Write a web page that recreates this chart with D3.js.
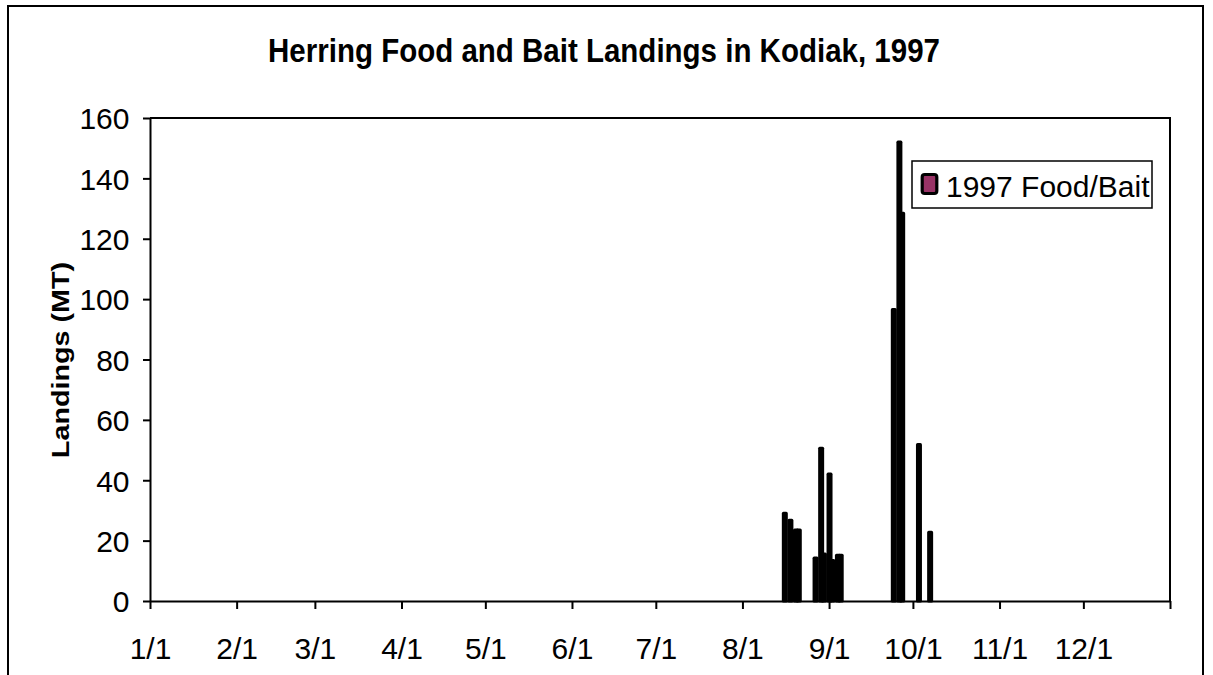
<!DOCTYPE html>
<html>
<head>
<meta charset="utf-8">
<script src="https://cdn.jsdelivr.net/npm/d3@7"></script>
<style>
  body { margin: 0; background: #fff; }
  text { font-family: "Liberation Sans", Arial, sans-serif; }
</style>
</head>
<body>
<div id="bar_chart"></div>
<script>
// landings by day, 1997
var dates = ["1997-08-16", "1997-08-18", "1997-08-20", "1997-08-21", "1997-08-27",
  "1997-08-29", "1997-08-30", "1997-09-01", "1997-09-02", "1997-09-04", "1997-09-05",
  "1997-09-24", "1997-09-26", "1997-09-27", "1997-10-03", "1997-10-07"];
var landings = [29, 26.7, 23.5, 23.5, 14.2, 50.6, 15.5, 42, 13.4, 15.1, 15.1,
  96.5, 152, 128.4, 51.8, 22.7];
var monthLabels = ["1/1", "2/1", "3/1", "4/1", "5/1", "6/1", "7/1", "8/1", "9/1", "10/1", "11/1", "12/1"];
var yTicks = [0, 20, 40, 60, 80, 100, 120, 140, 160];
var seriesName = "1997 Food/Bait";

var margin = { top: 118, right: 43, bottom: 74, left: 150 },
width = 1213 - margin.left - margin.right,
height = 675 - margin.top - margin.bottom;

var root = d3.select("#bar_chart")
.append("svg")
.attr("width", 1213)
.attr("height", 675);

// outer chart border
root.append("rect")
  .attr("x", 8).attr("y", 6)
  .attr("width", 1195).attr("height", 720)
  .attr("fill", "none")
  .attr("stroke", "#000")
  .attr("stroke-width", 2);

root.append("text")
  .attr("transform", "translate(604,62) scale(1,1.12)")
  .attr("text-anchor", "middle")
  .attr("font-size", 29.5)
  .attr("font-weight", "bold")
  .text("Herring Food and Bait Landings in Kodiak, 1997");

root.append("text")
  .attr("transform", "translate(69,360) rotate(-90) scale(1.25,1)")
  .attr("text-anchor", "middle")
  .attr("font-size", 23)
  .attr("font-weight", "bold")
  .text("Landings (MT)");

var svg = root.append("g")
.attr("transform", "translate(" + margin.left + "," + margin.top + ")");

var parseDate = d3.timeParse("%Y-%m-%d");
var data = dates.map(function (d, i) {
  return { date: parseDate(d), value: landings[i] };
});

var start = new Date(1997, 0, 1), end = new Date(1998, 0, 1);
var x = d3.scaleTime()
  .domain([start, end])
  .range([0, width]);

var y = d3.scaleLinear()
  .domain([0, 160])
  .range([height, 0]);

var dayW = x(new Date(1997, 0, 2)) - x(start);

// plot frame top and right
svg.append("path")
  .attr("d", "M0,0H" + width + "V" + height)
  .attr("fill", "none")
  .attr("stroke", "#000")
  .attr("stroke-width", 2);

svg.selectAll(".bar")
  .data(data)
  .enter().append("rect")
  .attr("class", "bar")
  .attr("x", d => x(d3.timeHour.offset(d.date, 4)) - dayW / 2)
  .attr("width", dayW)
  .attr("y", d => y(d.value))
  .attr("height", d => y(0) - y(d.value))
  .attr("fill", "#993366")
  .attr("stroke", "#000")
  .attr("stroke-width", 3.2)
  .attr("stroke-linejoin", "round");

var monthTicks = d3.range(12).map(m => new Date(1997, m, 1)).concat([end]);

var xAxis = g => g
  .attr("transform", "translate(0," + height + ")")
  .call(d3.axisBottom(x)
    .tickValues(monthTicks)
    .tickFormat((d, i) => monthLabels[i] || "")
    .tickSize(8)
    .tickSizeOuter(0)
    .tickPadding(29))
  .call(g => g.selectAll("line, path").attr("stroke", "#000").attr("stroke-width", 2))
  .call(g => g.selectAll("text").attr("font-size", 30).attr("fill", "#000")
    .attr("font-family", "'Liberation Sans', Arial, sans-serif"));

var yAxis = g => g
  .call(d3.axisLeft(y)
    .tickValues(yTicks)
    .tickSize(7)
    .tickSizeOuter(0)
    .tickPadding(13.5))
  .call(g => g.selectAll("line, path").attr("stroke", "#000").attr("stroke-width", 2))
  .call(g => g.selectAll("text").attr("font-size", 30).attr("fill", "#000").attr("dy", "0.36em")
    .attr("font-family", "'Liberation Sans', Arial, sans-serif"));

svg.append("g").call(xAxis);
svg.append("g").call(yAxis);

// legend
var legend = root.append("g").attr("transform", "translate(912,161)");
legend.append("rect")
  .attr("width", 240).attr("height", 47)
  .attr("fill", "#fff")
  .attr("stroke", "#000")
  .attr("stroke-width", 1.5);
legend.append("rect")
  .attr("x", 10.2).attr("y", 13.5)
  .attr("width", 14.6).attr("height", 19)
  .attr("rx", 2.5)
  .attr("fill", "#993366")
  .attr("stroke", "#000")
  .attr("stroke-width", 3.2);
legend.append("text")
  .attr("x", 34).attr("y", 36)
  .attr("font-size", 30)
  .text(seriesName);
</script>
</body>
</html>
